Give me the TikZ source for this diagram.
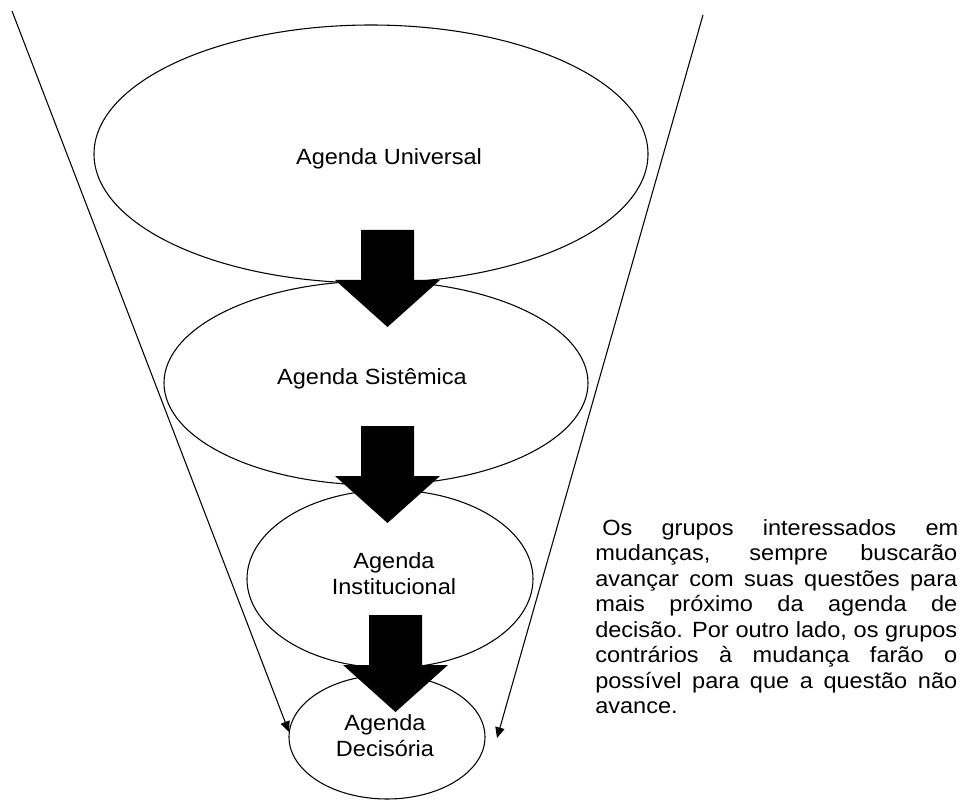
\documentclass[tikz,border=0pt]{standalone}
\usepackage{fontspec}
\usetikzlibrary{arrows.meta,shapes.geometric}
\newfontfamily\labfont{Liberation Sans}[FakeStretch=1.07]
\begin{document}
\begin{tikzpicture}[x=0.75pt,y=-0.75pt,
  agenda/.style={draw=black,line width=0.8pt,ellipse,inner sep=0pt},
  lbl/.style={font=\labfont\fontsize{16.5pt}{19.5pt}\selectfont,inner sep=0pt,align=center},
  para/.style={font=\labfont\fontsize{16.5pt}{19.1pt}\selectfont,inner sep=0pt,anchor=base west},
  funnel/.style={draw=black,line width=0.8pt,-{Triangle[length=8pt,width=7pt]}},
  blockarrow/.pic={\fill[black] (-26.5,0) -- (26.5,0) -- (26.5,50) -- (52.5,50) -- (0,97) -- (-52.5,50) -- (-26.5,50) -- cycle;}
]
\useasboundingbox (0,0) rectangle (964,802);
% ellipses
\node[agenda,minimum width=415.5pt,minimum height=193.5pt] (eU) at (371,154) {};
\node[agenda,minimum width=318pt,minimum height=153pt] (eS) at (376,383) {};
\node[agenda,minimum width=214.5pt,minimum height=133.5pt] (eI) at (390,579) {};
\node[agenda,minimum width=147pt,minimum height=93pt] (eD) at (387,737) {};
% labels
\node[lbl,anchor=base] (tU) at (389,165) {Agenda Universal};
\node[lbl,anchor=base] (tS) at (372,384) {Agenda Sistêmica};
\node[lbl] (tI) at (394,573.5) {Agenda\\Institucional};
\node[lbl] (tD) at (385,736) {Agenda\\Decisória};
% block arrows
\coordinate (b1) at (387.5,230);
\coordinate (b2) at (387.5,426);
\coordinate (b3) at (395.5,615);
\pic at (b1) {blockarrow};
\pic at (b2) {blockarrow};
\pic at (b3) {blockarrow};
% funnel lines
\coordinate (L0) at (12,11);
\coordinate (L1) at (289,732);
\coordinate (R0) at (703,15);
\coordinate (R1) at (497,738);
\draw[funnel] (L0) -- (L1);
\draw[funnel] (R0) -- (R1);
% paragraph
\node[para] (p1) at (602,535) {\makebox[267pt][s]{Os grupos interessados em}};
\node[para] (p2) at (595,560.5) {\makebox[271.5pt][s]{mudanças, sempre buscarão}};
\node[para] (p3) at (595,586) {\makebox[271.5pt][s]{avançar com suas questões para}};
\node[para] (p4) at (595,611.5) {\makebox[271.5pt][s]{mais próximo da agenda de}};
\node[para] (p5) at (595,637) {\makebox[271.5pt][s]{decisão. Por outro lado, os grupos}};
\node[para] (p6) at (595,662.5) {\makebox[271.5pt][s]{contrários à mudança farão o}};
\node[para] (p7) at (595,688) {\makebox[271.5pt][s]{possível para que a questão não}};
\node[para] (p8) at (595,713.5) {avance.};
\end{tikzpicture}
\end{document}
